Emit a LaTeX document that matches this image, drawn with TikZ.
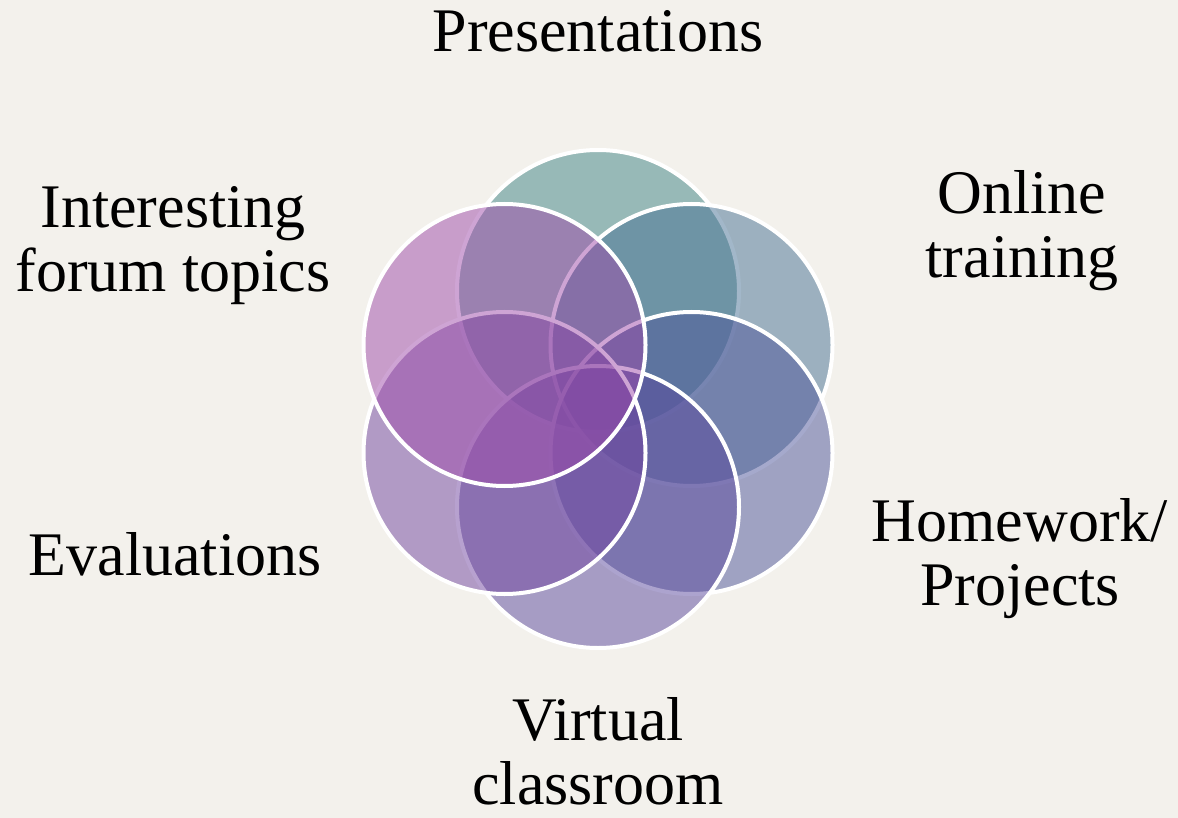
\documentclass[tikz,border=0pt]{standalone}
\usepackage{fontspec}
\setmainfont{Liberation Serif}
\definecolor{paper}{RGB}{243,241,236}
\definecolor{tealpetal}{RGB}{61,131,132}
\definecolor{steelpetal}{RGB}{71,113,148}
\definecolor{bluepetal}{RGB}{77,85,154}
\definecolor{violetpetal}{RGB}{91,73,158}
\definecolor{lilacpetal}{RGB}{113,69,160}
\definecolor{pinkpetal}{RGB}{159,75,170}
\tikzset{
  petal/.style={circle, draw=white, line width=2pt, fill opacity=0.5,
    minimum size=141pt, inner sep=0pt},
  topic/.style={font=\fontsize{31}{32}\selectfont, align=center, text=black, inner sep=0pt}
}
\begin{document}
\begin{tikzpicture}[x=0.5pt,y=-0.5pt]
\fill[paper] (0,0) rectangle (1178,818);
\useasboundingbox (0,0) rectangle (1178,818);
% petals, last one on top
\node[petal, fill=tealpetal] (cPres) at (598,291) {};
\node[petal, fill=steelpetal] (cOnline) at (691.5,345) {};
\node[petal, fill=bluepetal] (cHome) at (691.5,453) {};
\node[petal, fill=violetpetal] (cVirtual) at (598,507) {};
\node[petal, fill=lilacpetal] (cEval) at (504.5,453) {};
\node[petal, fill=pinkpetal] (cForum) at (504.5,345) {};
% topics (base = last line)
\node[topic, anchor=base] (pres) at (598,52) {Presentations};
\node[topic, anchor=base] (online) at (1022,278) {Online\\training};
\node[topic, anchor=base] (home) at (1020,605) {Homework/\\Projects};
\node[topic, anchor=base] (virtual) at (598,804) {Virtual\\classroom};
\node[topic, anchor=base] (evals) at (175,575) {Evaluations};
\node[topic, anchor=base] (forum) at (173,292) {Interesting\\forum topics};
\end{tikzpicture}
\end{document}
